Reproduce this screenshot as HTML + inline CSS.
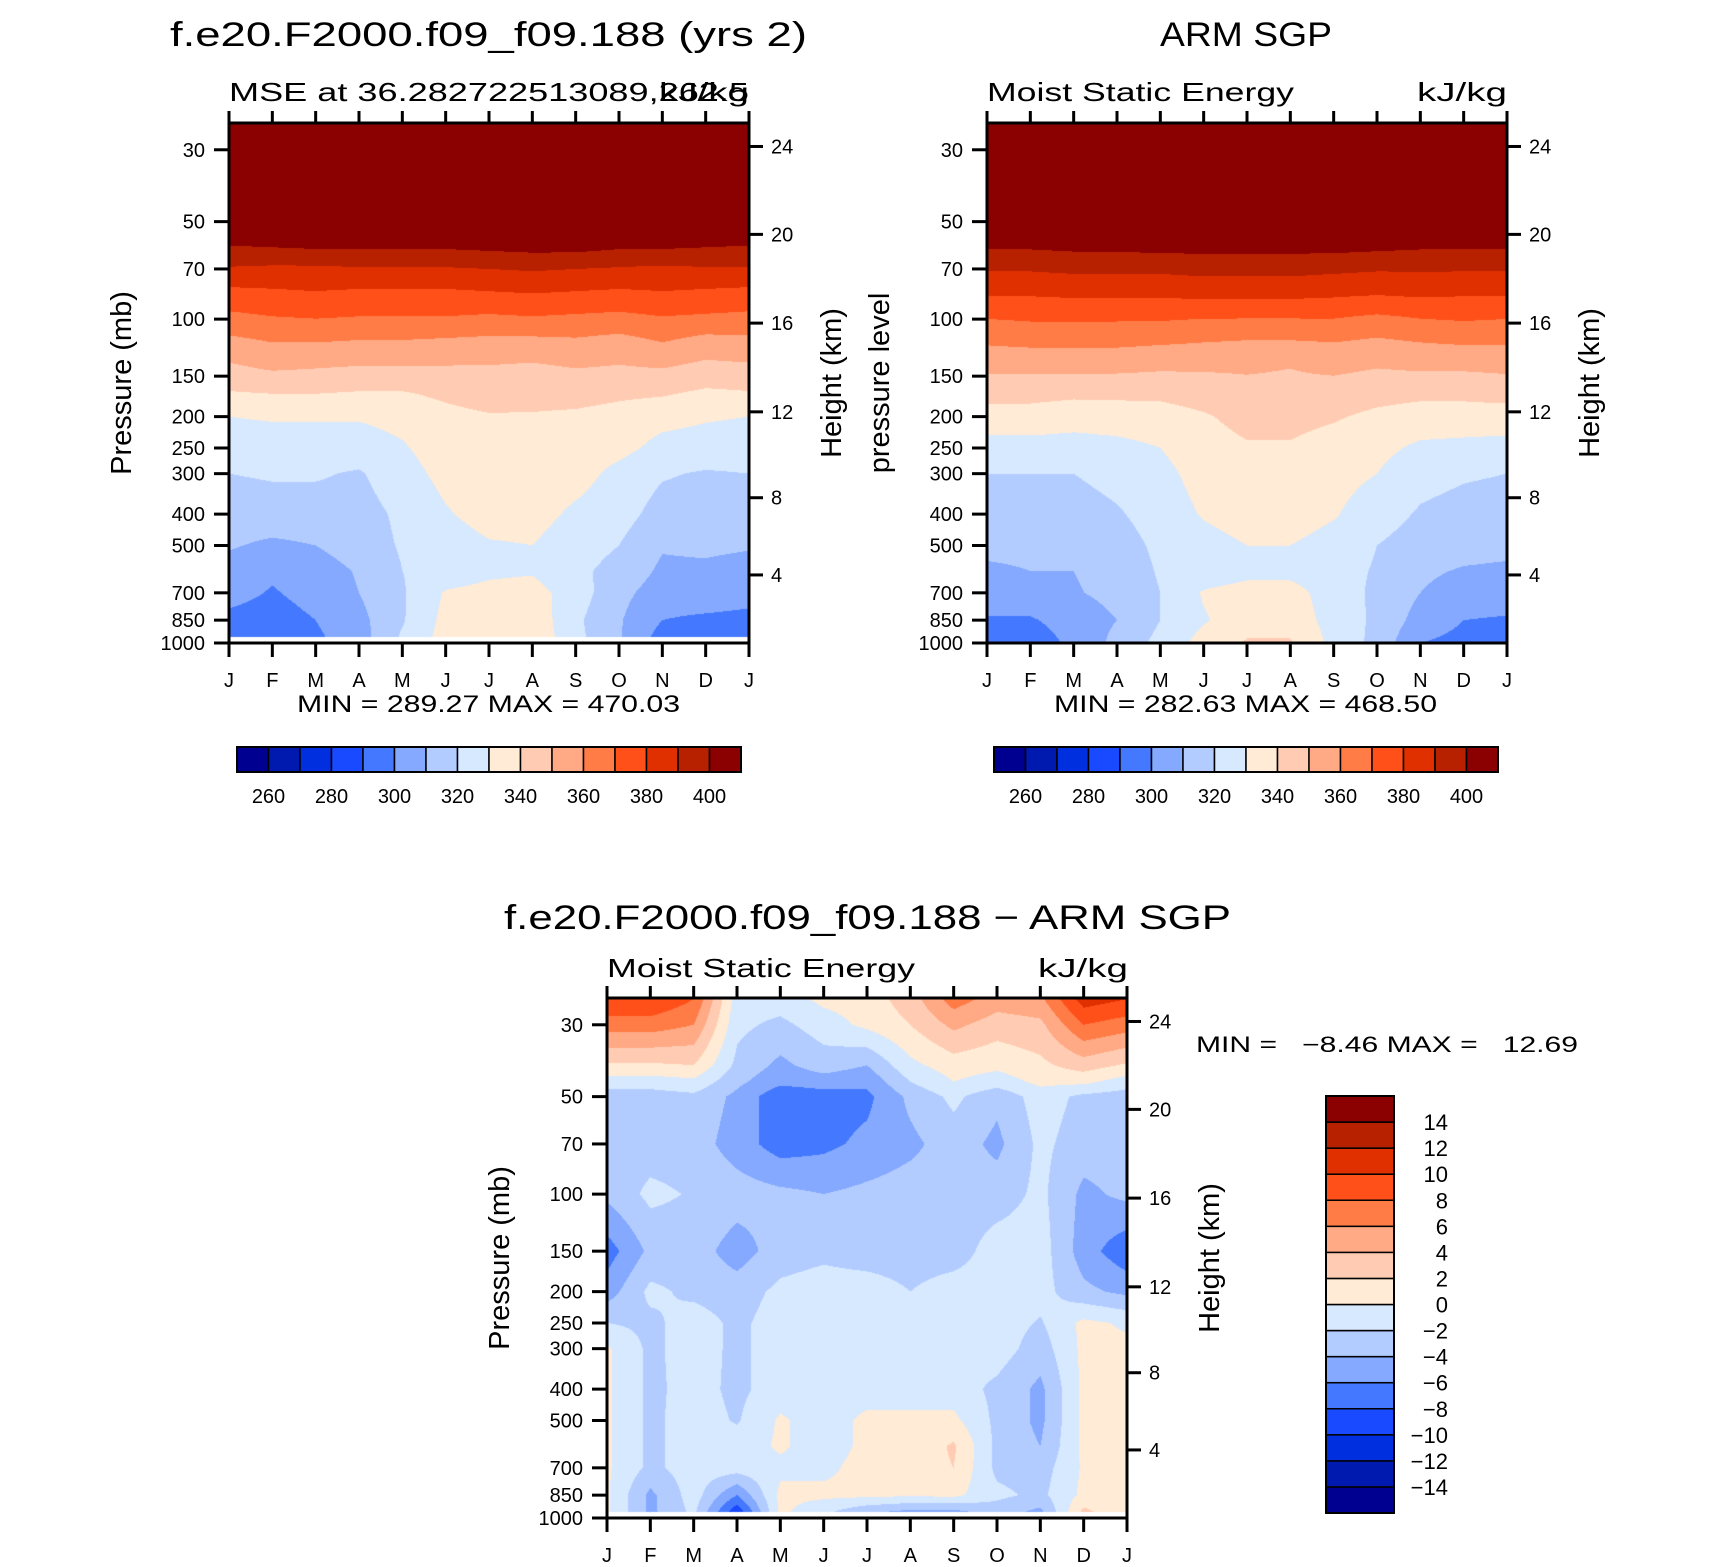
<!DOCTYPE html>
<html><head><meta charset="utf-8">
<style>
html,body{margin:0;padding:0;background:#fff;}
#wrap{position:relative;width:1710px;height:1567px;overflow:hidden;background:#fff;}
canvas{position:absolute;}
svg{position:absolute;left:0;top:0;}
text{font-family:"Liberation Sans",sans-serif;fill:#000;white-space:pre;}
</style></head>
<body>
<div id="wrap">
<canvas id="c1" width="520" height="520" style="left:229px;top:123px"></canvas>
<canvas id="c2" width="520" height="520" style="left:987px;top:123px"></canvas>
<canvas id="c3" width="520" height="520" style="left:607px;top:998px"></canvas>
<svg id="svg" width="1710" height="1567"></svg>
</div>
<script>
// ---------------- DATA ----------------
const months = ['J','F','M','A','M','J','J','A','S','O','N','D','J'];
const pTicks = [30,50,70,100,150,200,250,300,400,500,700,850,1000];
const hTicks = [4,8,12,16,20,24];
const palette = ['#000090','#0019AF','#002FE0','#1A4AFF','#4479FF','#84A9FF','#B3CCFF','#D6E9FF','#FFEBD6','#FFCCB3','#FFA985','#FF7C47','#FF501A','#E03000','#B82100','#8B0000'];
const levelsAbs = [260,270,280,290,300,310,320,330,340,350,360,370,380,390,400];
const levelsDiff = [-14,-12,-10,-8,-6,-4,-2,0,2,4,6,8,10,12,14];
const absLabels = [260,280,300,320,340,360,380,400];

const modelP = [25,50,60,70,82,98,118,142,170,200,250,300,400,500,600,700,850,985];
const modelV = [
[470,470,470,470,470,470,470,470,470,470,470,470,470],
[415,415,415,415,415,415,415,415,415,415,415,415,415],
[399,400,401,401,401,401,402,403,403,401,401,400,399],
[389,388,388,389,389,389,390,391,390,389,388,389,389],
[378,379,380,379,379,379,380,381,380,379,380,379,378],
[368,370,371,370,370,370,369,370,369,368,370,369,368],
[357,360,360,359,359,358,357,357,358,356,360,356,357],
[348,351,350,349,349,349,349,348,350,349,350,347,348],
[339,340,340,339,339,342,345,344,344,342,341,338,339],
[330,331,331,331,333,337,339,339,338,336,333,331,330],
[325,325,325,325,329,335,337,337,336,333,327,326,325],
[320,321,321,319,326,333,336,336,334,327,321,319,320],
[315,316,316,316,322,329,334,334,328,324,316,315,315],
[311,308,310,315,321,325,329,330,324,320,311,312,311],
[306,302,305,311,320,324,328,329,322,317,308,308,306],
[304,299,304,310,319,331,333,334,325,313,305,306,304],
[297,295,300,307,319,333,336,337,322,311,300,298,297],
[294,290,298,305,322,334,337,338,323,311,295,295,294]];
const modelBottom = 960;

const obsP = [25,50,60,70,82,98,118,142,170,200,250,300,400,500,600,700,850,1000];
const obsV = [
[470,470,470,470,470,470,470,470,470,470,470,470,470],
[420,420,420,420,420,420,420,420,420,420,420,420,420],
[401,401,402,402,403,403,403,403,403,402,401,401,401],
[391,391,392,392,392,393,393,393,392,391,391,391,391],
[382,382,383,383,383,384,384,384,383,382,383,382,382],
[371,372,372,372,372,371,371,371,371,369,371,372,371],
[361,362,362,362,361,360,359,359,360,358,360,361,361],
[352,352,352,352,351,351,351,350,352,350,351,351,352],
[343,343,342,342,342,344,347,347,345,343,342,342,343],
[336,336,334,335,336,339,343,343,341,338,336,336,336],
[326,326,326,327,330,336,339,339,336,333,328,327,326],
[320,320,320,323,327,334,337,337,334,330,323,321,320],
[316,316,316,319,324,331,335,335,331,324,319,317,316],
[313,313,313,316,322,326,330,330,326,320,316,314,313],
[308,310,310,314,321,324,327,327,324,319,312,309,308],
[305,306,309,313,320,331,334,334,325,318,310,305,305],
[299,299,304,310,320,329,336,336,326,318,306,300,299],
[292,295,302,313,323,334,341,341,327,317,300,297,292]];
const obsBottom = 1000;

const diffP = [25,30,40,45,50,70,100,150,200,250,300,400,500,600,700,850,955];
const diffV = [
[10,10,8,-1,-1,0.5,1,3,7,5,5.5,11,10],
[7,7,6,-1.5,-2.5,-1,0.5,2,4.5,3,3.5,8,7],
[1.7,1.7,2,-2.5,-4.5,-3,-4,-0.5,1,0.5,1.5,3,1.7],
[-1,-1,-0.5,-3.5,-5.5,-5,-5.5,-2,0,-1,0.5,0.5,-1],
[-3,-3,-2.5,-4.5,-7.5,-7,-6.5,-3.5,-1.5,-3.5,-1,-2.5,-3],
[-3,-3,-3,-5,-7,-6.5,-5.5,-4.5,-3,-4.5,-1.5,-3,-3],
[-3.5,-1.5,-2.2,-3,-3.5,-4,-3.5,-3,-3,-3,-1.5,-4.5,-3.5],
[-7,-3.5,-3,-5,-3,-2.5,-3,-3,-3,-1,-1,-5,-7.5],
[-5,-1.5,-2.5,-3,-1.5,-1,-1,-2,-1,-1,-1.2,-3.5,-4.5],
[-2,-2.5,-1,-2.5,-1,-1,-1,-1,-1,-1,-2.2,0.5,-0.3],
[0.3,-2.5,-1,-2.5,-1,-1,-1,-1,-1,-1,-3,0.5,0.5],
[0.3,-2.5,-1.2,-2.5,-1,-1,-1,-1,-1,-2.5,-4.5,0.5,0.5],
[0.3,-2.5,-1,-2.2,0.3,-1,0.5,0.5,0.5,-2.5,-4.5,0.5,0.5],
[0.3,-2.5,-1,-1,0.3,-1,0.5,0.5,2.3,-2.5,-4,0.5,0.5],
[0.3,-2.5,-1,-1,-0.5,-0.5,0.8,1,2,-2.5,-3,0.3,0.5],
[0.3,-4.5,-1,-6,0.5,0.5,0.5,0.3,0.5,-1.5,-2.5,0.5,0.3],
[0.3,-4.5,-1.5,-9.5,0.5,-1.5,-3.5,-4.5,-4.5,-3,-4.5,2.5,0.3]];
const diffBottom = 960;

// ---------------- GEOMETRY ----------------
const W = 520, H = 520;
const LT = Math.log10(24.8), LD = 3 - LT;
function yOfP(p){ return H * (Math.log10(p) - LT) / LD; }
function xOfM(m){ return W * m / 12; }
function hToP(z){
  if (z <= 11) return 1013.25 * Math.pow(1 - 0.0225577 * z, 5.25588);
  if (z <= 20) return 226.32 * Math.exp(-(z - 11) / 6.3416);
  return 54.749 * Math.pow(1 + (z - 20) / 216.65, -34.1632);
}
function colorIdx(v, levels){ let k = 0; while (k < levels.length && v >= levels[k]) k++; return k; }
function hex(c){ return [parseInt(c.substr(1,2),16),parseInt(c.substr(3,2),16),parseInt(c.substr(5,2),16)]; }
const rgb = palette.map(hex);

function drawField(id, P, V, bottom, levels){
  const cv = document.getElementById(id), ctx = cv.getContext('2d');
  const img = ctx.createImageData(W, H);
  const lp = P.map(p => Math.log10(p));
  for (let py = 0; py < H; py++){
    const l = LT + (py + 0.5) / H * LD;
    const p = Math.pow(10, l);
    let i = 0; while (i < lp.length - 2 && l > lp[i+1]) i++;
    let fy = (l - lp[i]) / (lp[i+1] - lp[i]); fy = Math.max(0, Math.min(1, fy));
    for (let px = 0; px < W; px++){
      const o = (py * W + px) * 4;
      if (p > bottom){ img.data[o]=255; img.data[o+1]=255; img.data[o+2]=255; img.data[o+3]=255; continue; }
      const m = (px + 0.5) / W * 12;
      let j = Math.min(11, Math.floor(m)); const fx = m - j;
      const v = (1-fy)*((1-fx)*V[i][j] + fx*V[i][j+1]) + fy*((1-fx)*V[i+1][j] + fx*V[i+1][j+1]);
      const c = rgb[colorIdx(v, levels)];
      img.data[o]=c[0]; img.data[o+1]=c[1]; img.data[o+2]=c[2]; img.data[o+3]=255;
    }
  }
  ctx.putImageData(img, 0, 0);
}
drawField('c1', modelP, modelV, modelBottom, levelsAbs);
drawField('c2', obsP, obsV, obsBottom, levelsAbs);
drawField('c3', diffP, diffV, diffBottom, levelsDiff);

// ---------------- SVG ----------------
const NS = 'http://www.w3.org/2000/svg';
const svg = document.getElementById('svg');
function el(tag, attrs, parent){ const e = document.createElementNS(NS, tag); for (const k in attrs) e.setAttribute(k, attrs[k]); (parent||svg).appendChild(e); return e; }
function txt(s, attrs, parent){ const e = el('text', attrs, parent); e.textContent = s; return e; }

function axes(ox, oy, name, ytitle){
  const g = el('g', {});
  
  
  months.forEach((m, k) => {
    const x = ox + xOfM(k);
    el('line', {x1:x, y1:oy-12, x2:x, y2:oy, stroke:'#000','stroke-width':3}, g);
    el('line', {x1:x, y1:oy+H, x2:x, y2:oy+H+14, stroke:'#000','stroke-width':3}, g);
    const t = txt(m, {x:x, y:oy+H+44, 'font-size':20, 'text-anchor':'middle'}, g);
    
    
  });
  pTicks.forEach(p => {
    const y = oy + yOfP(p);
    el('line', {x1:ox-15, y1:y, x2:ox, y2:y, stroke:'#000','stroke-width':3}, g);
    const t = txt(String(p), {x:ox-24, y:y+7, 'font-size':20, 'text-anchor':'end'}, g);
    
    
  });
  hTicks.forEach(h => {
    const y = oy + yOfP(hToP(h));
    el('line', {x1:ox+W, y1:y, x2:ox+W+14, y2:y, stroke:'#000','stroke-width':3}, g);
    const t = txt(String(h), {x:ox+W+22, y:y+7, 'font-size':20}, g);
    
    
  });
  el('rect', {x:ox, y:oy, width:W, height:H, fill:'none', stroke:'#000', 'stroke-width':3}, g);
  const yt = txt(ytitle, {x:0, y:0, 'font-size':29, 'text-anchor':'middle', transform:`translate(${ox-98},${oy+260}) rotate(-90)`}, g);
  
  
  const ht = txt('Height (km)', {x:0, y:0, 'font-size':29, 'text-anchor':'middle', transform:`translate(${ox+W+92},${oy+260}) rotate(-90)`}, g);
  
  
}
axes(229, 123, 'model', 'Pressure (mb)');
axes(987, 123, 'obs', 'pressure level');
axes(607, 998, 'diff', 'Pressure (mb)');

function T(s, x, y, size, anchor, len, name){
  const a = {x:x, y:y, 'font-size':size, 'text-anchor':anchor||'start'};
  if (len){ a.textLength = len; a.lengthAdjust = 'spacingAndGlyphs'; }
  const t = txt(s, a);
  
  
  return t;
}
T('f.e20.F2000.f09_f09.188 (yrs 2)', 170, 46, 34, 'start', 637, 'model-title');
T('MSE at 36.282722513089,262.5', 229, 101, 26, 'start', 520, 'model-subtitle');
T('kJ/kg', 749, 101, 26, 'end', 90, 'model-units');
T('MIN = 289.27 MAX = 470.03', 297, 712, 24, 'start', 383, 'model-minmax');
T('ARM SGP', 1160, 46, 34, 'start', 172, 'obs-title');
T('Moist Static Energy', 987, 101, 26, 'start', 307, 'obs-subtitle');
T('kJ/kg', 1507, 101, 26, 'end', 90, 'obs-units');
T('MIN = 282.63 MAX = 468.50', 1054, 712, 24, 'start', 383, 'obs-minmax');
T('f.e20.F2000.f09_f09.188 \u2212 ARM SGP', 504, 929, 34, 'start', 727, 'diff-title');
T('Moist Static Energy', 607, 977, 26, 'start', 308, 'diff-subtitle');
T('kJ/kg', 1128, 977, 26, 'end', 90, 'diff-units');
T('MIN =   \u22128.46 MAX =   12.69', 1196, 1052, 22, 'start', 382, 'diff-minmax');

function hbar(x0, y0, w, h, name){
  const g = el('g', {});
  
  
  const bw = w / palette.length;
  palette.forEach((c, k) => {
    el('rect', {x:x0+k*bw, y:y0, width:bw, height:h, fill:c, stroke:'#000','stroke-width':1.5}, g);
  });
  el('rect', {x:x0, y:y0, width:w, height:h, fill:'none', stroke:'#000','stroke-width':2}, g);
  absLabels.forEach(v => {
    const k = levelsAbs.indexOf(v) + 1;
    const t = txt(String(v), {x:x0+k*bw, y:y0+h+31, 'font-size':20, 'text-anchor':'middle'}, g);
    
    
  });
}
hbar(237, 747, 504, 25, 'model-colorbar');
hbar(994, 747, 504, 25, 'obs-colorbar');

(function(){
  const x0 = 1326, y0 = 1096, w = 68, h = 417;
  const g = el('g', {});
  
  
  const bh = h / palette.length;
  palette.forEach((c, k) => {
    el('rect', {x:x0, y:y0+(palette.length-1-k)*bh, width:w, height:bh, fill:c, stroke:'#000','stroke-width':1.5}, g);
  });
  el('rect', {x:x0, y:y0, width:w, height:h, fill:'none', stroke:'#000','stroke-width':2}, g);
  levelsDiff.forEach((v, i) => {
    const y = y0 + (palette.length-1-i) * bh;
    const s = v < 0 ? '\u2212' + Math.abs(v) : String(v);
    const t = txt(s, {x:1448, y:y+8, 'font-size':22, 'text-anchor':'end'}, g);
    
    
  });
})();
</script>
</body></html>
